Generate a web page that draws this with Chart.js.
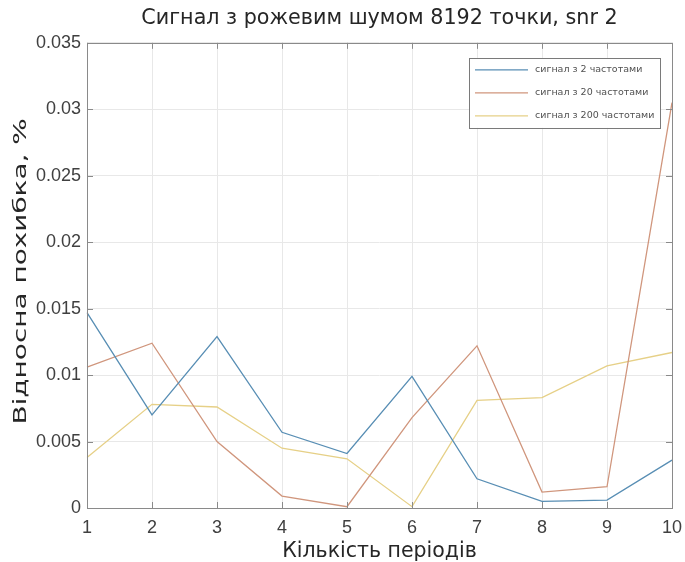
<!DOCTYPE html>
<html>
<head>
<meta charset="utf-8">
<script src="https://cdn.jsdelivr.net/npm/chart.js@4.4.1/dist/chart.umd.min.js"></script>
<style>
  html, body { margin: 0; padding: 0; background: #ffffff; }
  #wrap { width: 685px; height: 562px; }
</style>
</head>
<body>
<div id="wrap"><canvas id="c" width="685" height="562"></canvas></div>
<script>
// Number of periods on the x axis
const periods = ['1', '2', '3', '4', '5', '6', '7', '8', '9', '10'];

// Relative error (%) for each signal
const freq2   = [0.0147, 0.0070, 0.0129, 0.0057, 0.0041, 0.0099, 0.0022, 0.0005, 0.0006, 0.0036];
const freq20  = [0.0106, 0.0124, 0.0050, 0.0009, 0.0001, 0.0068, 0.0122, 0.0012, 0.0016, 0.0305];
const freq200 = [0.0038, 0.0078, 0.0076, 0.0045, 0.0037, 0.0001, 0.0081, 0.0083, 0.0107, 0.0117];

const seriesNames = ['сигнал з 2 частотами', 'сигнал з 20 частотами', 'сигнал з 200 частотами'];
const yTicks = [0, 0.005, 0.01, 0.015, 0.02, 0.025, 0.03, 0.035];
const yTitle = 'Відносна похибка, %';

const colors = ['rgb(88,142,180)', 'rgb(208,150,125)', 'rgb(230,208,135)'];

// Inward tick marks on all four sides plus a framed box around the plot
const boxTicks = {
  id: 'boxTicks',
  afterDatasetsDraw(chart) {
    const { ctx, chartArea: a, scales } = chart;
    ctx.save();
    ctx.strokeStyle = '#8a8a8a';
    ctx.lineWidth = 1;
    const len = 6;
    ctx.beginPath();
    scales.x.ticks.forEach((t, i) => {
      const px = Math.round(scales.x.getPixelForTick(i)) + 0.5;
      ctx.moveTo(px, a.bottom); ctx.lineTo(px, a.bottom - len);
      ctx.moveTo(px, a.top); ctx.lineTo(px, a.top + len);
    });
    scales.y.ticks.forEach((t, i) => {
      const py = Math.round(scales.y.getPixelForTick(i)) + 0.5;
      ctx.moveTo(a.left, py); ctx.lineTo(a.left + len, py);
      ctx.moveTo(a.right, py); ctx.lineTo(a.right - len, py);
    });
    ctx.stroke();
    ctx.strokeRect(Math.round(a.left) + 0.5, Math.round(a.top) + 0.5,
                   Math.round(a.right - a.left), Math.round(a.bottom - a.top));
    ctx.restore();
  }
};

// Vertical y-axis caption, stretched along its reading direction
const yCaption = {
  id: 'yCaption',
  afterDraw(chart) {
    const { ctx, chartArea: a } = chart;
    ctx.save();
    ctx.translate(21, (a.top + a.bottom) / 2 - 4);
    ctx.rotate(-Math.PI / 2);
    ctx.scale(1.55, 1);
    ctx.font = '18px "DejaVu Sans", sans-serif';
    ctx.fillStyle = '#262626';
    ctx.textAlign = 'center';
    ctx.textBaseline = 'middle';
    ctx.fillText(yTitle, 0, 0);
    ctx.restore();
  }
};

// Legend drawn inside the plot, top-right corner
const innerLegend = {
  id: 'innerLegend',
  afterDraw(chart) {
    const { ctx, chartArea: a } = chart;
    const w = 191, h = 70;
    const x0 = a.right - 12 - w, y0 = a.top + 15;
    ctx.save();
    ctx.fillStyle = '#ffffff';
    ctx.fillRect(x0, y0, w, h);
    ctx.strokeStyle = '#7a7a7a';
    ctx.lineWidth = 1;
    ctx.strokeRect(Math.round(x0) + 0.5, Math.round(y0) + 0.5, w, h);
    ctx.font = '9.5px "DejaVu Sans", sans-serif';
    ctx.textBaseline = 'middle';
    chart.data.datasets.forEach((ds, i) => {
      const yy = y0 + 12 + i * 23;
      ctx.strokeStyle = ds.borderColor;
      ctx.lineWidth = 1.2;
      ctx.beginPath();
      ctx.moveTo(x0 + 6, yy); ctx.lineTo(x0 + 59, yy);
      ctx.stroke();
      ctx.fillStyle = '#505050';
      ctx.fillText(ds.label, x0 + 66, yy);
    });
    ctx.restore();
  }
};

new Chart(document.getElementById('c'), {
  type: 'line',
  data: {
    labels: periods,
    datasets: [
      { label: seriesNames[0], data: freq2,   borderColor: colors[0] },
      { label: seriesNames[1], data: freq20,  borderColor: colors[1] },
      { label: seriesNames[2], data: freq200, borderColor: colors[2] }
    ].map(d => Object.assign(d, { borderWidth: 1.3, pointRadius: 0, tension: 0, fill: false }))
  },
  options: {
    responsive: false,
    animation: false,
    devicePixelRatio: 1,
    layout: { padding: { left: 0, right: 13, top: 0, bottom: 0 } },
    plugins: {
      legend: { display: false },
      tooltip: { enabled: false },
      title: {
        display: true,
        fullSize: false,
        text: 'Сигнал з рожевим шумом 8192 точки, snr 2',
        color: '#262626',
        font: { family: '"DejaVu Sans", sans-serif', size: 20.7, weight: 'normal' },
        padding: { top: 6, bottom: 12 }
      }
    },
    scales: {
      x: {
        type: 'category',
        offset: false,
        grid: { color: '#e8e8e8', drawTicks: false, drawOnChartArea: true },
        border: { display: false },
        ticks: {
          color: '#404040',
          padding: 9,
          maxRotation: 0,
          font: { family: '"Liberation Sans", Arial, sans-serif', size: 18 }
        },
        title: {
          display: true,
          text: 'Кількість періодів',
          color: '#262626',
          padding: { top: 0, bottom: 0 },
          font: { family: '"DejaVu Sans", sans-serif', size: 20.5, lineHeight: 1 }
        },
        afterFit(scale) {
          scale.height = 54;
          scale.paddingLeft = 0;
          scale.paddingRight = 0;
        }
      },
      y: {
        type: 'linear',
        min: 0,
        max: 0.035,
        afterBuildTicks(scale) { scale.ticks = yTicks.map(v => ({ value: v })); },
        grid: { color: '#e8e8e8', drawTicks: false },
        border: { display: false },
        ticks: {
          color: '#404040',
          padding: 6,
          font: { family: '"Liberation Sans", Arial, sans-serif', size: 18 },
          callback: v => String(+v.toFixed(3))
        },
        afterFit(scale) { scale.width = 87; }
      }
    }
  },
  plugins: [boxTicks, yCaption, innerLegend]
});
</script>
</body>
</html>
